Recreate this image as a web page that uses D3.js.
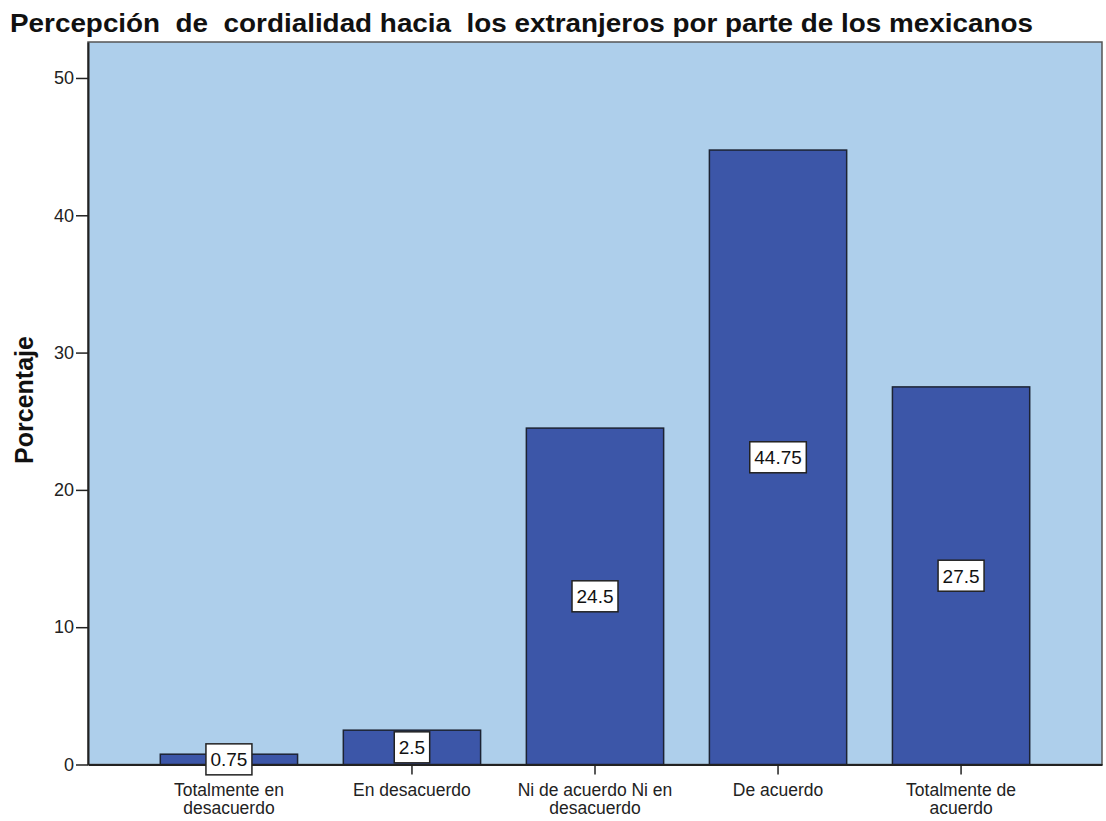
<!DOCTYPE html>
<html>
<head>
<meta charset="utf-8">
<script src="https://cdn.jsdelivr.net/npm/d3@7"></script>
<style>
  body { margin: 0; background: #fff; }
  svg text { font-family: "Liberation Sans", Arial, sans-serif; }
</style>
</head>
<body>
<div id="chart"></div>
<script>
const width = 1106;
const height = 821;
const margin = { top: 42, right: 4, bottom: 56, left: 88 };

const categories = [
  "Totalmente en\ndesacuerdo",
  "En desacuerdo",
  "Ni de acuerdo Ni en\ndesacuerdo",
  "De acuerdo",
  "Totalmente de\nacuerdo"
];
const values = [0.75, 2.5, 24.5, 44.75, 27.5];
const valueLabels = ["0.75", "2.5", "24.5", "44.75", "27.5"];
const yTicks = [0, 10, 20, 30, 40, 50];

const title = "Percepción  de  cordialidad hacia  los extranjeros por parte de los mexicanos";

const svg = d3.select("#chart").append("svg")
  .attr("width", width)
  .attr("height", height);

const x = d3.scaleBand()
  .domain(categories)
  .range([margin.left, width - margin.right])
  .paddingInner(0.25)
  .paddingOuter(0.395);

const y = d3.scaleLinear()
  .domain([0, 52.62])
  .range([764.5, margin.top]);

// plot background
svg.append("rect")
  .attr("x", margin.left)
  .attr("y", margin.top)
  .attr("width", width - margin.right - margin.left)
  .attr("height", y(0) - margin.top)
  .attr("fill", "#aecfeb")
  .attr("stroke", "#555")
  .attr("stroke-width", 1.5);

// bars
svg.selectAll("rect.bar")
  .data(values)
  .enter()
  .append("rect")
  .attr("class", "bar")
  .attr("x", (d, i) => x(categories[i]))
  .attr("y", d => y(d))
  .attr("width", x.bandwidth())
  .attr("height", d => y(0) - y(d))
  .attr("fill", "#3c56a8")
  .attr("stroke", "#1c2333")
  .attr("stroke-width", 1.5);

// y axis
const yAxis = d3.axisLeft(y)
  .tickValues(yTicks)
  .tickSizeInner(12)
  .tickSizeOuter(0)
  .tickPadding(2);

const gy = svg.append("g")
  .attr("transform", `translate(${margin.left},0)`)
  .call(yAxis);
gy.select(".domain").attr("stroke", "#222").attr("stroke-width", 2);
gy.selectAll(".tick line").attr("stroke", "#222").attr("stroke-width", 1.5);
gy.selectAll(".tick text")
  .attr("font-size", 18)
  .attr("fill", "#222");

// x axis
const xAxis = d3.axisBottom(x)
  .tickSizeInner(10)
  .tickSizeOuter(0)
  .tickFormat("");

const gx = svg.append("g")
  .attr("transform", `translate(0,${y(0)})`)
  .call(xAxis);
gx.select(".domain").attr("stroke", "#222").attr("stroke-width", 2);
gx.selectAll(".tick line").attr("stroke", "#222").attr("stroke-width", 1.5);

svg.selectAll("text.xlab")
  .data(categories)
  .enter()
  .append("text")
  .attr("class", "xlab")
  .attr("text-anchor", "middle")
  .attr("font-size", 17.5)
  .attr("fill", "#222")
  .attr("x", d => x(d) + x.bandwidth() / 2)
  .attr("y", 796)
  .each(function (d) {
    const t = d3.select(this);
    d.split("\n").forEach((line, k) => {
      t.append("tspan")
        .attr("x", x(d) + x.bandwidth() / 2)
        .attr("dy", k === 0 ? 0 : 18)
        .text(line);
    });
  });

// value labels
const lab = svg.selectAll("g.vlab")
  .data(values)
  .enter()
  .append("g")
  .attr("class", "vlab")
  .attr("transform", (d, i) =>
    `translate(${x(categories[i]) + x.bandwidth() / 2},${y(d / 2)})`);

lab.each(function (d, i) {
  const g = d3.select(this);
  const t = g.append("text")
    .attr("text-anchor", "middle")
    .attr("dy", "0.36em")
    .attr("font-size", 19)
    .attr("fill", "#111")
    .text(valueLabels[i]);
  const w = t.node().getComputedTextLength();
  g.insert("rect", "text")
    .attr("x", -w / 2 - 4.5)
    .attr("y", -15.5)
    .attr("width", w + 9)
    .attr("height", 31)
    .attr("fill", "#fff")
    .attr("stroke", "#222")
    .attr("stroke-width", 1.5);
});

// title
svg.append("text")
  .attr("x", 10)
  .attr("y", 32)
  .attr("font-size", 26)
  .attr("font-weight", "bold")
  .attr("fill", "#111")
  .attr("textLength", 1023)
  .attr("lengthAdjust", "spacingAndGlyphs")
  .style("white-space", "pre")
  .text(title);

// y axis title
svg.append("text")
  .attr("transform", "translate(33,400) rotate(-90)")
  .attr("text-anchor", "middle")
  .attr("font-size", 25)
  .attr("font-weight", "bold")
  .attr("fill", "#111")
  .text("Porcentaje");
</script>
</body>
</html>
